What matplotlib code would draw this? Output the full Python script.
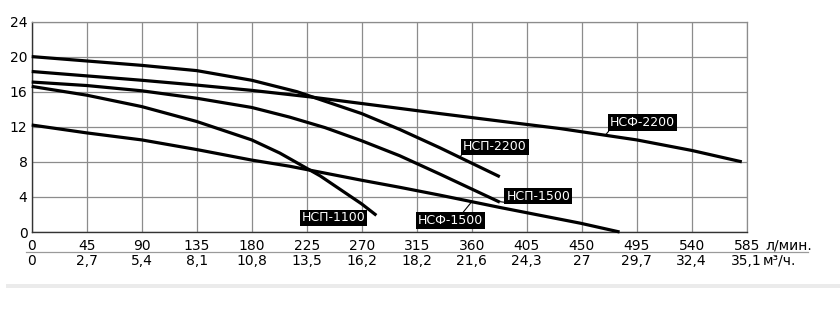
import matplotlib.pyplot as plt
from matplotlib import transforms
from matplotlib.lines import Line2D
from matplotlib.patches import Rectangle

plt.rcParams.update({
    'font.family': 'DejaVu Sans',
    'font.size': 10,
})

# ----- Pump curves: flow Q (l/min) vs head H (m) -----
NSP2200_Q = [0, 45, 90, 135, 180, 217, 236, 270, 301, 334, 383]
NSP2200_H = [20.0, 19.5, 19.0, 18.4, 17.3, 16.0, 15.1, 13.5, 11.7, 9.6, 6.3]

NSF2200_Q = [0, 45, 90, 135, 180, 228, 270, 334, 400, 432, 495, 540, 581]
NSF2200_H = [18.3, 17.8, 17.3, 16.75, 16.15, 15.4, 14.65, 13.5, 12.35, 11.8,
             10.5, 9.3, 8.0]

NSP1500_Q = [0, 45, 90, 135, 180, 211, 240, 270, 301, 334, 383]
NSP1500_H = [17.1, 16.7, 16.1, 15.25, 14.2, 13.1, 11.9, 10.4, 8.7, 6.6, 3.4]

NSP1100_Q = [0, 45, 90, 135, 180, 203, 236, 270, 282]
NSP1100_H = [16.6, 15.6, 14.3, 12.6, 10.5, 9.0, 6.4, 3.2, 1.9]

NSF1500_Q = [0, 45, 90, 135, 180, 211, 270, 301, 334, 383, 449, 481]
NSF1500_H = [12.2, 11.3, 10.5, 9.4, 8.2, 7.5, 5.9, 5.1, 4.2, 2.8, 1.0, 0.0]

CURVES = [
    (NSP2200_Q, NSP2200_H),
    (NSF2200_Q, NSF2200_H),
    (NSP1500_Q, NSP1500_H),
    (NSP1100_Q, NSP1100_H),
    (NSF1500_Q, NSF1500_H),
]

# ----- Axes ticks -----
Q_TICKS = list(range(0, 586, 45))
H_TICKS = list(range(0, 25, 4))
LMIN_LABELS = ['0', '45', '90', '135', '180', '225', '270', '315', '360',
               '405', '450', '495', '540', '585']
M3H_LABELS = ['0', '2,7', '5,4', '8,1', '10,8', '13,5', '16,2', '18,2',
              '21,6', '24,3', '27', '29,7', '32,4', '35,1']

# ----- Curve labels: name, box centre, leader end, leader start on box -----
LABELS = [
    ('НСФ-2200', (500, 12.45), (470, 11.15), (0, 0)),
    ('НСП-2200', (379, 9.7), (350, 8.5), (0, 0)),
    ('НСП-1500', (414.5, 4.1), (381, 3.5), (0, 0)),
    ('НСФ-1500', (342.7, 1.3), (360, 3.45), (0.67, 1)),
    ('НСП-1100', (246.8, 1.6), None, None),
]

W, H = 840, 309
fig = plt.figure(figsize=(W / 100, H / 100), dpi=100)
ax = fig.add_axes([31.7 / W, 1 - 232 / H, 715 / W, 210.5 / H])

for q, h in CURVES:
    ax.plot(q, h, color='black', lw=2.3, solid_capstyle='butt',
            solid_joinstyle='round', zorder=3, clip_on=False)

ax.set_xlim(0, 585)
ax.set_ylim(0, 24)
ax.set_xticks(Q_TICKS)
ax.set_yticks(H_TICKS)
ax.set_xticklabels([])
ax.grid(True, color='#8c8c8c', lw=0.9)
ax.tick_params(length=0)
ax.tick_params(axis='y', pad=3.0, labelsize=10)
for side in ['top', 'right']:
    ax.spines[side].set_color('#8c8c8c')
    ax.spines[side].set_linewidth(0.9)
for side in ['left', 'bottom']:
    ax.spines[side].set_color('#333333')
    ax.spines[side].set_linewidth(1.0)

# Two rows of flow labels under the axis
trans = transforms.blended_transform_factory(ax.transData, fig.transFigure)
row1_y = 1 - 249.5 / H
row2_y = 1 - 265 / H
for q, l1, l2 in zip(Q_TICKS, LMIN_LABELS, M3H_LABELS):
    ax.text(q, row1_y, l1, transform=trans, ha='center', va='baseline',
            fontsize=10)
    ax.text(q, row2_y, l2, transform=trans, ha='center', va='baseline',
            fontsize=10)
ax.annotate('л/мин.', xy=(Q_TICKS[-1], row1_y), xycoords=trans,
            xytext=(13.2, 0), textcoords='offset points',
            ha='left', va='baseline', fontsize=10)
ax.annotate('м³/ч.', xy=(Q_TICKS[-1], row2_y), xycoords=trans,
            xytext=(11.6, 0), textcoords='offset points',
            ha='left', va='baseline', fontsize=10)

fig.add_artist(Line2D([26 / W, 808 / W], [1 - 251.7 / H] * 2,
                      color='#9a9a9a', lw=0.9))
fig.add_artist(Rectangle((6 / W, 1 - 288 / H), 834 / W, 4 / H,
                         color='#ebebeb', lw=0))

# Black label boxes with leader lines
for name, centre, end, relpos in LABELS:
    box = dict(boxstyle='square,pad=0.15', fc='black', ec='none')
    if end is None:
        ax.text(*centre, name, ha='center', va='center', color='white',
                fontsize=9, bbox=box, zorder=5)
    else:
        ax.annotate(name, xy=end, xytext=centre, ha='center', va='center',
                    color='white', fontsize=9, bbox=box, zorder=5,
                    arrowprops=dict(arrowstyle='-', color='black', lw=0.8,
                                    shrinkA=0, shrinkB=0, relpos=relpos))

fig.savefig('out.png', dpi=100)
